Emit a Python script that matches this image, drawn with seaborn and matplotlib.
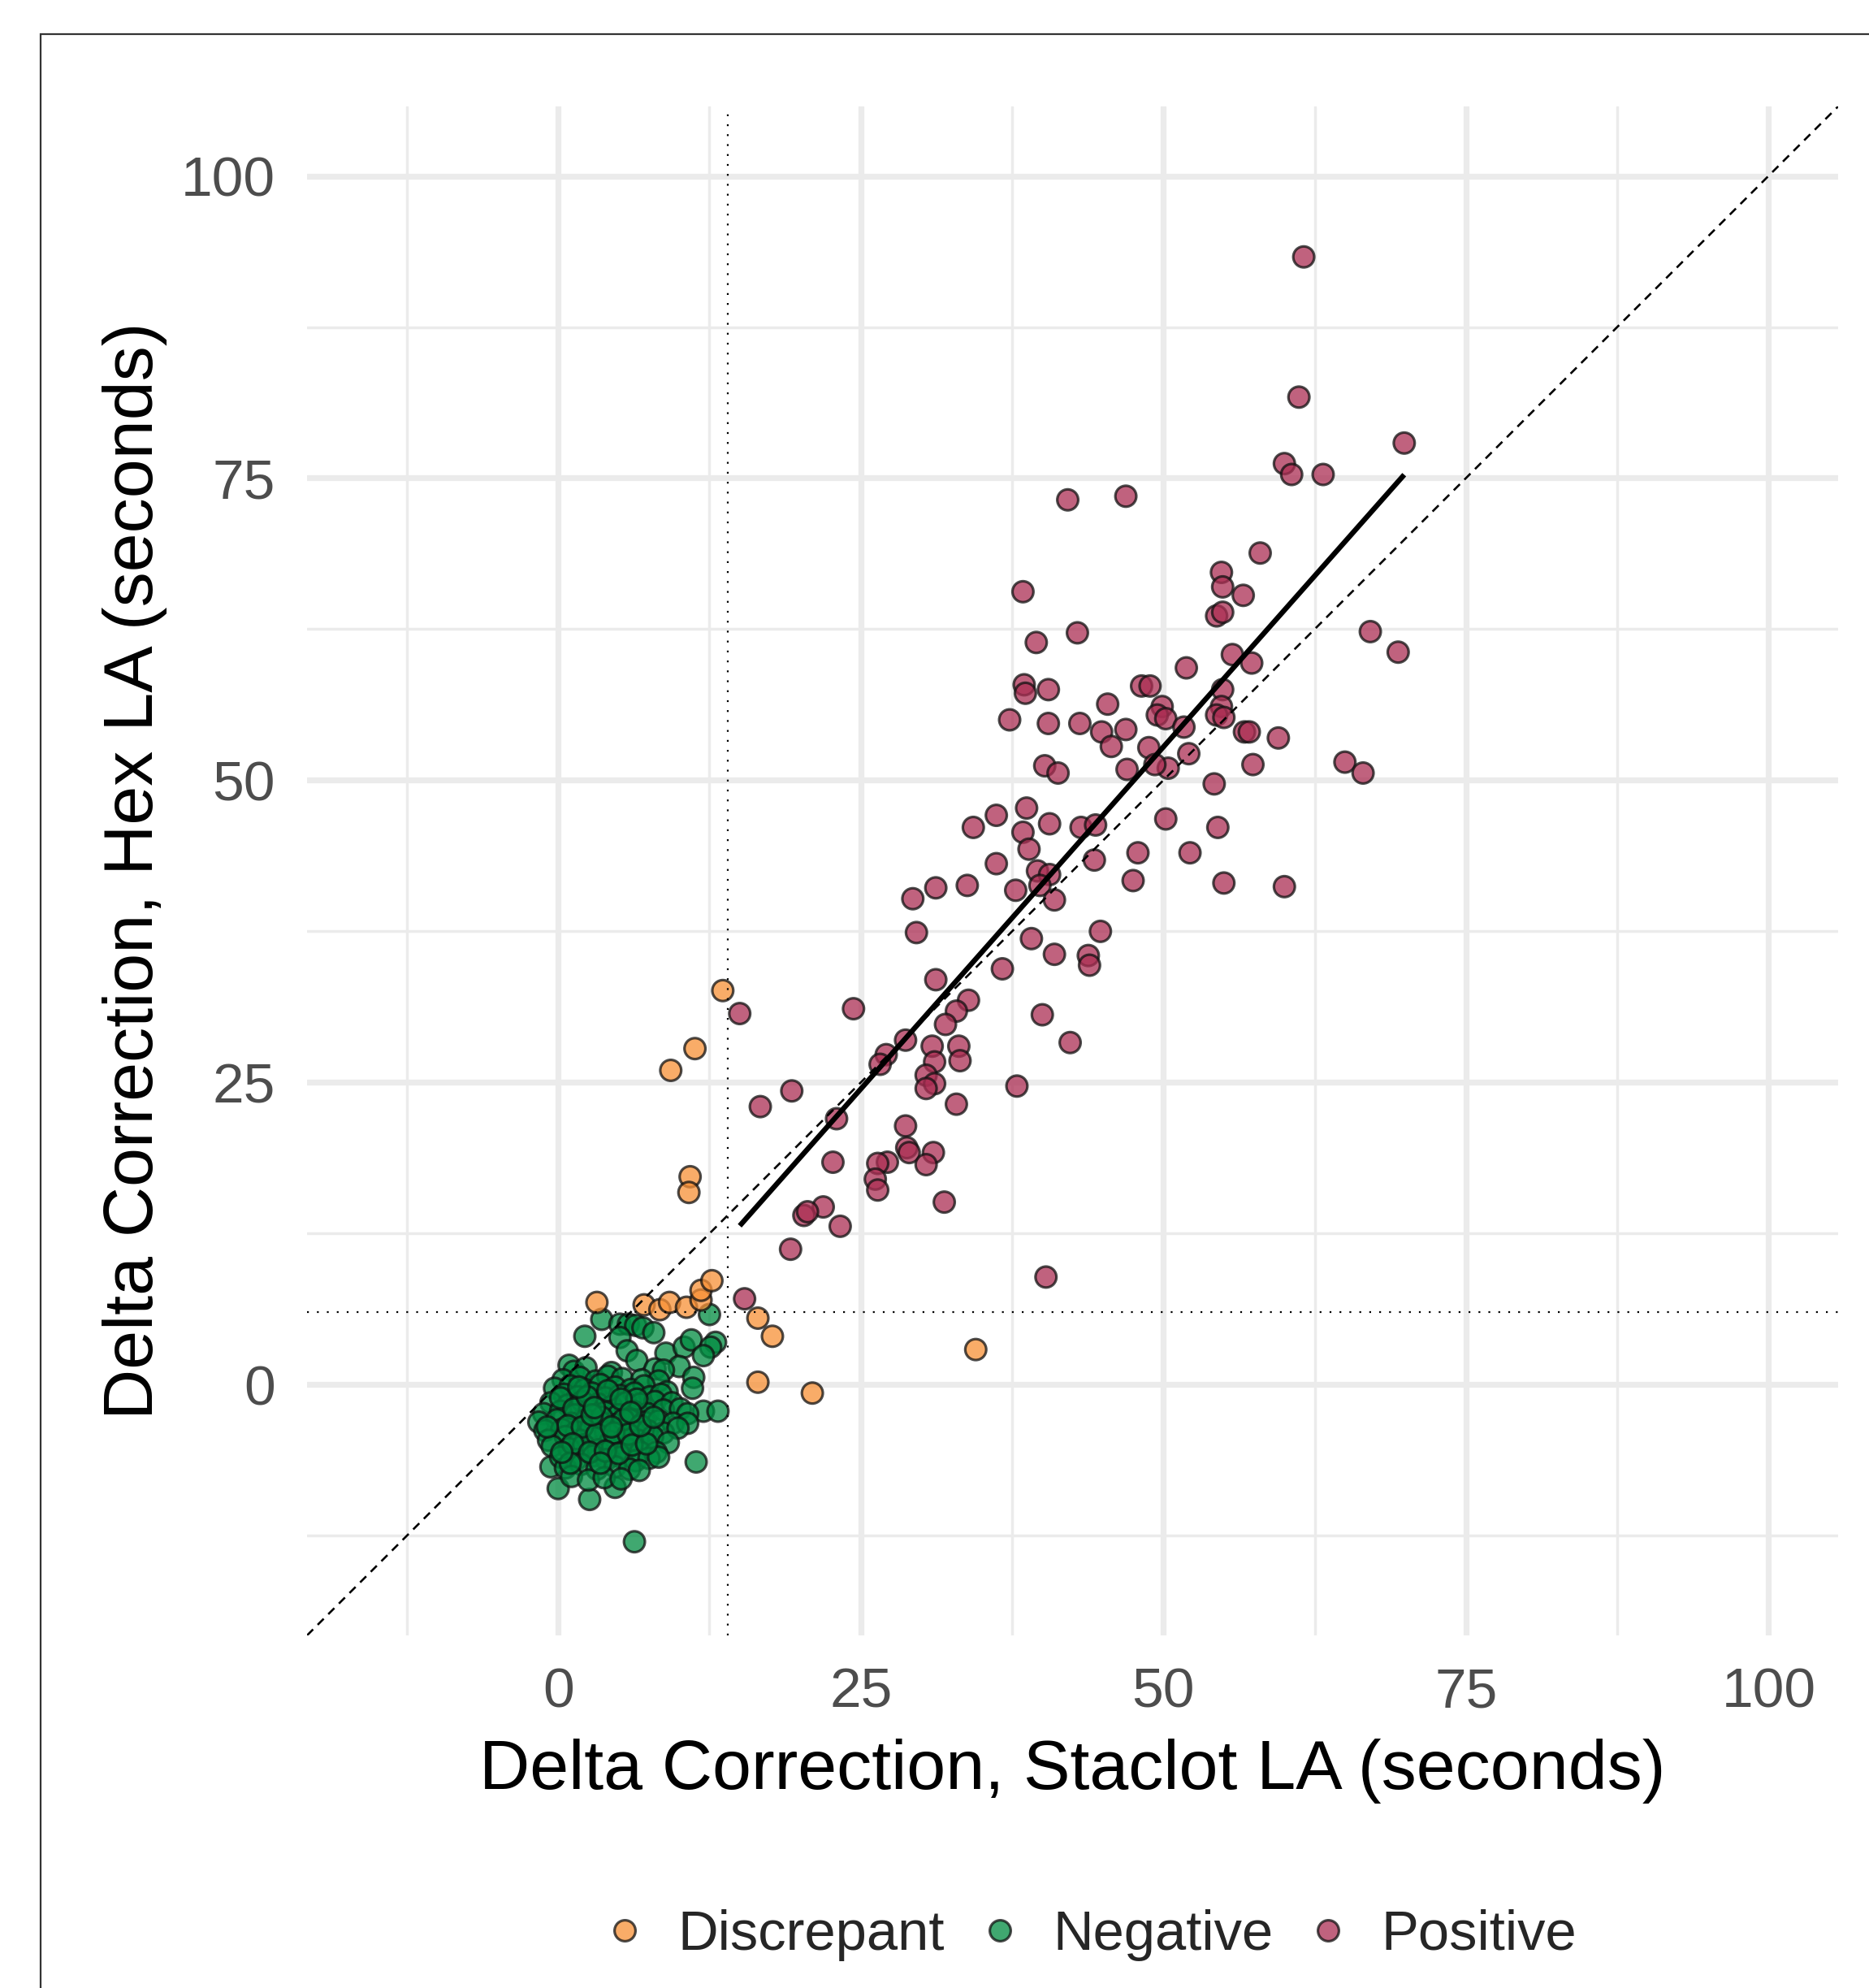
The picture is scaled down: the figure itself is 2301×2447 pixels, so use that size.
import numpy as np
import pandas as pd
import matplotlib
matplotlib.use("Agg")
import matplotlib.pyplot as plt
import seaborn as sns
from matplotlib.patches import Rectangle

# ---------------- data ----------------
groups = ["Discrepant", "Negative", "Positive"]
palette = {"Discrepant": "#F89036", "Negative": "#008B40", "Positive": "#AB2E53"}

discrepant_x = [3.2, 7.1, 8.4, 9.2, 10.6, 11.8, 11.8, 12.7, 16.5, 17.7, 16.5, 21.0,
                34.5, 9.3, 11.3, 13.6, 10.9, 10.8]
discrepant_y = [6.8, 6.6, 6.2, 6.8, 6.4, 7.0, 7.8, 8.6, 5.5, 4.0, 0.2, -0.7,
                2.9, 26.0, 27.8, 32.6, 17.2, 15.9]

negative_x = [
    # sparse points around the cluster
    3.6, 2.2, 5.1, 5.8, 6.4, 7.0, 7.9, 5.1, 12.5, 5.7, 6.5, 8.9, 10.4, 11.0, 13.0,
    12.6, 12.0, 10.0, 8.0, 11.2, 11.1, 12.0, 13.2, 11.4, 6.3, 0.0, 2.6, 4.7, -0.6, 0.9,
    # dense cluster
    1.3, 2.3, 4.4, 8.7,
    0.4, 1.8, 3.1, 4.1, 5.3, 6.9, 8.3,
    -0.3, 1.0, 2.2, 3.5, 4.7, 6.0, 7.1, 9.0,
    0.5, 1.6, 2.8, 3.9, 5.1, 6.3, 7.6, 8.5,
    -0.6, 0.8, 2.0, 3.3, 4.4, 5.6, 6.8, 8.0, 9.4,
    -1.2, 0.2, 1.4, 2.6, 3.9, 5.0, 6.2, 7.4, 8.7, 10.1, 10.7,
    -1.6, -0.1, 1.1, 2.3, 3.5, 4.7, 5.9, 7.1, 8.3, 9.5, 10.7,
    -1.1, 0.3, 1.5, 2.7, 3.9, 5.1, 6.3, 7.4, 8.7, 9.9,
    -0.8, 0.6, 1.8, 3.0, 4.3, 5.5, 6.6, 7.8, 9.1,
    -0.5, 0.9, 2.1, 3.3, 4.5, 5.7, 6.8, 8.1,
    0.2, 1.5, 2.9, 4.0, 5.2, 6.4, 7.5, 8.3,
    0.6, 1.9, 3.2, 4.7, 5.9, 6.7,
    1.1, 2.5, 3.8, 5.2,
    0.2, 1.3, 2.4, 3.6, 4.1, 5.4, 6.5, 0.8, 2.0, 3.2, 4.6, 5.8, 1.2, 2.6, 3.9,
    5.0, 6.1, 7.3, 1.0, 3.5, 2.8, 4.4, 6.8, 7.9, 0.3, -0.9, 1.7, 3.0, 5.2, 6.0,
]
negative_y = [
    5.4, 4.0, 5.0, 5.0, 4.9, 4.7, 4.3, 3.9, 5.8, 2.8, 2.0, 2.6, 3.1, 3.7, 3.5,
    3.1, 2.4, 1.5, 1.3, 0.6, -0.3, -2.2, -2.2, -6.4, -13.0, -8.6, -9.5, -8.5, -6.8, 1.6,
    1.1, 1.4, 1.0, 1.2,
    0.4, 0.6, 0.3, 0.7, 0.5, 0.4, 0.3,
    -0.3, -0.1, -0.4, 0.0, -0.2, -0.4, -0.1, -0.6,
    -0.8, -1.0, -0.7, -1.1, -0.9, -0.7, -1.0, -0.8,
    -1.5, -1.7, -1.4, -1.6, -1.8, -1.5, -1.6, -1.4, -1.5,
    -2.4, -2.2, -2.5, -2.1, -2.3, -2.5, -2.2, -2.4, -2.1, -2.0, -2.4,
    -3.1, -2.9, -3.2, -2.9, -3.1, -3.3, -2.9, -3.1, -3.0, -3.2, -3.2,
    -3.8, -3.7, -3.9, -3.6, -3.9, -3.7, -3.9, -3.8, -4.0, -3.6,
    -4.6, -4.3, -4.6, -4.4, -4.7, -4.4, -4.6, -4.3, -4.8,
    -5.1, -5.3, -5.0, -5.4, -5.1, -5.3, -5.6, -5.6,
    -6.0, -6.2, -5.9, -6.2, -6.0, -6.3, -6.1, -6.0,
    -6.9, -6.6, -7.0, -6.8, -7.0, -7.1,
    -7.6, -7.9, -7.7, -7.8,
    -1.1, -2.0, -1.0, -2.7, -0.5, -2.9, -1.2, -3.4, -3.5, -4.1, -4.0, -4.1, -4.9, -5.6, -5.5,
    -5.7, -5.0, -4.9, -6.5, -6.5, -2.5, -3.5, -3.4, -2.7, -5.6, -3.5, -0.2, -1.9, -1.2, -2.3,
]

positive_x = [
    61.6, 61.2, 69.9, 60.0, 60.6, 63.2, 42.1, 46.9, 58.0, 54.8, 54.9, 56.6, 54.4, 54.9,
    38.4, 42.9, 39.5, 67.1, 69.4, 55.7, 57.3, 51.9, 38.5, 38.6, 40.5, 48.2, 48.9, 45.4,
    54.9, 54.8, 49.9, 49.5, 50.2, 54.4, 55.0, 37.3, 40.5, 43.1, 44.9, 46.9, 51.7, 56.7,
    57.1, 59.5, 45.7, 48.8, 52.1, 65.0, 66.5, 57.4, 40.2, 41.3, 47.0, 50.4, 49.3, 54.2,
    38.7, 36.2, 34.3, 40.6, 43.2, 44.4, 38.4, 50.2, 54.5, 38.9, 36.2, 47.9, 52.2, 44.3,
    39.6, 40.6, 31.2, 33.8, 29.3, 37.8, 39.8, 41.0, 47.5, 55.0, 60.0, 29.6, 39.1, 44.8,
    41.0, 43.8, 43.9, 36.7, 31.2,
    15.0, 24.4, 33.9, 32.9, 32.0, 28.7, 27.1, 26.6, 40.0, 42.3, 30.9, 33.1, 31.1, 33.2,
    30.4, 31.1, 30.4, 37.9, 32.9, 19.3, 16.7, 23.0, 28.7, 28.8, 29.0, 31.0, 30.4, 27.2,
    26.4, 22.7, 26.2, 26.4, 31.9, 21.9, 20.3, 20.6, 23.3, 19.2, 40.3, 15.4,
]
positive_y = [
    93.3, 81.7, 77.9, 76.2, 75.3, 75.3, 73.2, 73.5, 68.8, 67.2, 66.0, 65.3, 63.6, 63.9,
    65.6, 62.2, 61.4, 62.3, 60.6, 60.4, 59.7, 59.3, 57.9, 57.2, 57.5, 57.8, 57.8, 56.3,
    57.5, 56.1, 56.1, 55.4, 55.1, 55.4, 55.2, 55.0, 54.7, 54.7, 54.0, 54.2, 54.4, 54.0,
    54.0, 53.5, 52.8, 52.7, 52.2, 51.5, 50.6, 51.3, 51.2, 50.6, 50.9, 51.0, 51.3, 49.7,
    47.7, 47.1, 46.1, 46.4, 46.1, 46.3, 45.7, 46.8, 46.1, 44.3, 43.1, 44.0, 44.0, 43.4,
    42.5, 42.2, 41.1, 41.3, 40.2, 40.9, 41.3, 40.1, 41.7, 41.5, 41.2, 37.4, 36.9, 37.5,
    35.6, 35.5, 34.7, 34.4, 33.5,
    30.7, 31.1, 31.8, 30.9, 29.8, 28.5, 27.3, 26.5, 30.6, 28.3, 28.0, 28.0, 26.7, 26.8,
    25.6, 24.9, 24.5, 24.7, 23.2, 24.3, 23.0, 22.0, 21.4, 19.6, 19.2, 19.2, 18.2, 18.4,
    18.3, 18.4, 17.0, 16.1, 15.1, 14.7, 14.0, 14.3, 13.1, 11.2, 8.9, 7.1,
]

x_threshold = 14      # dotted vertical reference
y_threshold = 6       # dotted horizontal reference
axis_limits = (-20.75, 105.75)
major_ticks = [0, 25, 50, 75, 100]
minor_ticks = [-12.5, 12.5, 37.5, 62.5, 87.5]

x_title = "Delta Correction, Staclot LA (seconds)"
y_title = "Delta Correction, Hex LA (seconds)"

df = pd.concat([
    pd.DataFrame({"x": negative_x, "y": negative_y, "group": "Negative"}),
    pd.DataFrame({"x": positive_x, "y": positive_y, "group": "Positive"}),
    pd.DataFrame({"x": discrepant_x, "y": discrepant_y, "group": "Discrepant"}),
], ignore_index=True)

# ---------------- figure ----------------
sns.set_theme(style="white")
plt.rcParams['font.family'] = ['Liberation Sans', 'DejaVu Sans']

W, H = 2301, 2447
fig = plt.figure(figsize=(W / 100, H / 100), dpi=100)
fig.patch.set_facecolor("white")
ax = fig.add_axes([378 / W, 1 - 2013 / H, (2263 - 378) / W, (2013 - 131) / H])

sns.scatterplot(data=df, x="x", y="y", hue="group", hue_order=groups,
                palette=palette, s=345, alpha=0.75, edgecolor="#111111",
                linewidth=2.3, ax=ax, zorder=2)

# linear fit on the Positive group
sns.regplot(data=df[df["group"] == "Positive"], x="x", y="y", scatter=False,
            ci=None, truncate=True, color="black",
            line_kws=dict(lw=4.6, zorder=5, solid_capstyle="butt"), ax=ax)

ax.axline((0, 0), slope=1, color="black", lw=1.9, ls=(0, (4, 3)), zorder=4)
ax.axvline(x_threshold, color="black", lw=1.6, ls=(0, (1, 4.5)), zorder=4)
ax.axhline(y_threshold, color="black", lw=1.6, ls=(0, (1, 4.5)), zorder=4)

ax.set_xlim(*axis_limits)
ax.set_ylim(*axis_limits)
ax.set_xticks(major_ticks)
ax.set_yticks(major_ticks)
ax.set_xticks(minor_ticks, minor=True)
ax.set_yticks(minor_ticks, minor=True)
ax.grid(which="major", color="#EBEBEB", lw=5.2)
ax.grid(which="minor", color="#EBEBEB", lw=2.5)
ax.set_axisbelow(True)
for sp in ax.spines.values():
    sp.set_visible(False)
ax.tick_params(which="both", length=0)
ax.tick_params(axis="x", pad=28, labelsize=50, labelcolor="#4D4D4D")
ax.tick_params(axis="y", pad=28, labelsize=50, labelcolor="#4D4D4D")

ax.set_xlabel(x_title, fontsize=62, color="black", labelpad=17)
ax.set_ylabel(y_title, fontsize=62, color="black", labelpad=12)

handles, labels = ax.get_legend_handles_labels()
if ax.get_legend() is not None:
    ax.get_legend().remove()
for h in handles:
    try:
        h.set_alpha(0.75)
        h.set_markeredgecolor("#111111")
        h.set_markeredgewidth(2.3)
        h.set_markersize(np.sqrt(345))
    except Exception:
        pass
fig.legend(handles, labels, loc="center", bbox_to_anchor=(1338 / W, 1 - 2382 / H),
           ncol=3, frameon=False, fontsize=49.5, handletextpad=0.45,
           columnspacing=0.49, handlelength=1.0, borderaxespad=0)

# figure border (cropped at right / bottom like the reference)
fig.patches.append(Rectangle((50 / W, -0.1), 1.2, 1 - 42 / H + 0.1,
                             transform=fig.transFigure, fill=False,
                             edgecolor="#333333", lw=1.6, zorder=0))

fig.savefig("out.png", dpi=100, facecolor="white")
